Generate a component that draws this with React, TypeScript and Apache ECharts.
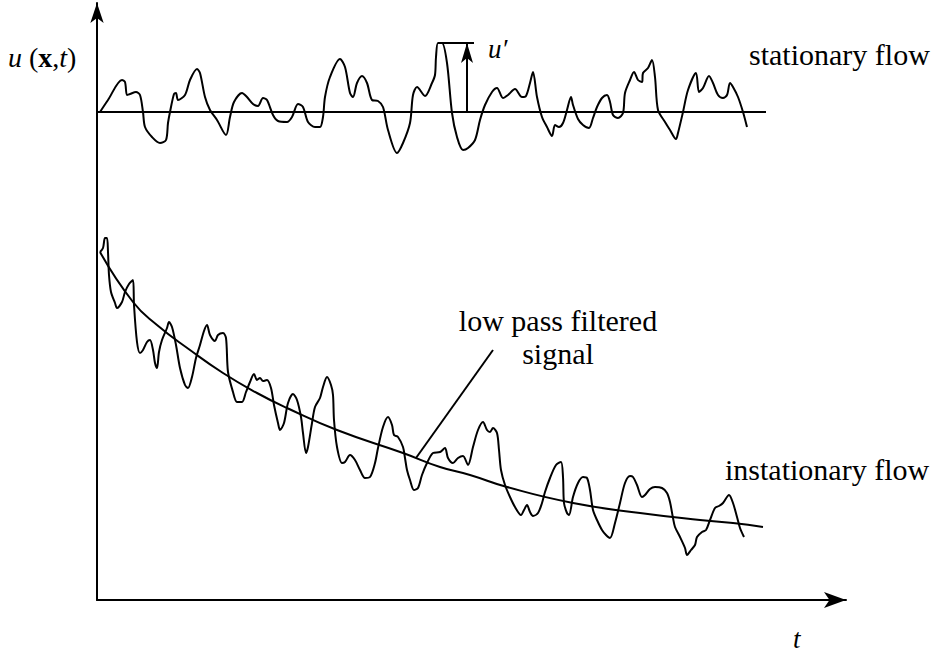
import React, { useEffect, useRef } from "react";
import * as echarts from "echarts";

// Stationary flow signal: [t, u]
const stationaryT = [100,108,122,125,127,130,136,140,143,145,152,160,166,168,170,174,176,178,185,190,197,200,205,210,217,226,230,234,242,247,253,258,263,267,273,278,287,292,298,303,308,315,320,323,325,330,340,345,350,353,357,362,367,372,378,383,388,397,403,410,413,417,425,432,435,436,438,442,447,452,457,463,468,475,480,485,492,497,503,508,515,522,526,530,533,537,542,547,552,555,559,563,567,571,573,578,583,589,593,597,602,607,610,613,618,623,625,630,634,638,642,643,648,652,655,658,665,670,676,678,683,688,696,699,703,709,713,718,723,727,730,733,738,743,747];
const stationaryU = [488,500,520,518,505,506,508,505,488,473,463,457,460,477,488,506,507,500,505,520,531,527,503,490,480,465,483,498,507,503,496,494,502,500,485,479,478,483,496,493,478,473,473,483,503,523,541,533,507,503,517,524,517,500,499,493,470,447,457,477,505,513,504,517,525,543,557,557,537,487,463,450,452,460,480,495,508,512,502,505,511,503,504,517,528,503,483,473,464,475,473,477,490,503,495,481,475,472,482,493,502,505,498,485,482,487,507,520,528,520,518,527,532,540,523,490,478,470,461,467,488,510,527,508,512,524,517,505,502,505,517,513,503,488,473];

// Stationary mean level
const meanT = [97, 766];
const meanU = [488, 488];

// Instationary flow signal: [t, u]
const instT = [100,103,105,107,108,109,111,115,117,122,125,129,133,134,137,140,143,147,150,153,155,157,159,162,167,169,172,176,180,185,188,192,196,200,204,207,210,215,218,223,226,228,233,237,242,246,250,254,257,260,263,267,271,274,278,280,284,288,293,297,301,303,306,308,312,315,320,323,327,331,333,334,337,342,345,350,355,360,365,370,375,378,383,388,392,394,398,403,405,407,410,414,418,422,427,433,440,445,448,453,458,463,468,473,478,483,487,490,493,497,499,501,505,510,515,521,524,527,530,533,538,542,545,550,556,561,563,564,567,569,573,578,583,587,590,593,597,602,606,610,615,620,625,630,633,637,642,645,650,655,662,667,670,673,675,680,685,687,691,695,697,702,706,710,715,719,723,729,733,737,740,744];
const instU = [348,352,362,362,348,325,308,297,292,298,308,316,320,295,258,247,250,258,260,250,237,232,248,260,272,278,273,255,232,215,212,223,242,255,269,275,265,259,265,267,262,228,208,198,198,208,218,226,220,222,219,220,212,195,177,170,177,197,206,200,183,167,147,153,177,193,202,213,223,215,205,180,153,137,138,145,140,130,122,123,137,152,173,183,175,165,163,153,142,130,120,110,112,125,137,147,148,152,142,137,142,144,135,153,170,178,170,168,172,167,150,130,115,103,93,85,90,95,88,84,87,97,108,122,135,138,123,97,87,85,103,117,123,122,110,90,80,70,65,62,77,97,117,124,123,115,103,105,111,113,112,107,98,82,73,63,52,45,50,55,63,68,70,80,92,94,97,105,97,83,72,63];

// Low pass filtered signal
const lowT = [100,133,157,190,223,257,287,337,403,440,470,507,573,640,700,733,763];
const lowU = [348,298,275,250,227,207,192,170,147,133,125,113,97,87,80,77,73];

const zip = (a: number[], b: number[]) => a.map((v, i) => [v, b[i]]);

const FONT = "'Liberation Serif', 'DejaVu Serif', serif";

export default function App() {
  const ref = useRef<HTMLDivElement>(null);
  useEffect(() => {
    if (!ref.current) return;
    const chart = echarts.init(ref.current, null, { renderer: "svg" });
    const lineStyle = { color: "#000", width: 2 };
    const txt = (text: string, x: number, y: number, size: number, extra: any = {}) => ({
      type: "text",
      x,
      y,
      style: {
        text,
        fontFamily: FONT,
        fontSize: size,
        fill: "#000",
        verticalAlign: "middle",
        ...extra,
      },
    });
    chart.setOption({
      animation: false,
      backgroundColor: "#fff",
      grid: { left: 97, right: 86, top: 3, bottom: 53 },
      xAxis: {
        type: "value",
        min: 97,
        max: 846,
        axisLine: {
          show: true,
          onZero: false,
          lineStyle: { color: "#000", width: 2 },
          symbol: ["none", "arrow"],
          symbolSize: [12, 22],
        },
        axisTick: { show: false },
        axisLabel: { show: false },
        splitLine: { show: false },
      },
      yAxis: {
        type: "value",
        min: 0,
        max: 597,
        axisLine: {
          show: true,
          onZero: false,
          lineStyle: { color: "#000", width: 2 },
          symbol: ["none", "arrow"],
          symbolSize: [10, 20],
        },
        axisTick: { show: false },
        axisLabel: { show: false },
        splitLine: { show: false },
      },
      series: [
        {
          type: "line",
          data: zip(meanT, meanU),
          showSymbol: false,
          lineStyle,
          markLine: {
            silent: true,
            symbol: ["none", "none"],
            lineStyle: { color: "#000", width: 2, type: "solid" },
            label: { show: false },
            data: [
              [{ coord: [438, 557] }, { coord: [474, 557] }],
              [{ coord: [416, 142] }, { coord: [493, 250] }],
            ],
          },
        },
        {
          type: "line",
          data: [[467, 488], [467, 557]],
          showSymbol: false,
          lineStyle,
          markLine: {
            silent: true,
            symbol: ["none", "arrow"],
            symbolSize: [9, 20],
            lineStyle: { color: "#000", width: 2, type: "solid" },
            label: { show: false },
            data: [[{ coord: [467, 488] }, { coord: [467, 557] }]],
          },
        },
        {
          type: "line",
          data: zip(stationaryT, stationaryU),
          showSymbol: false,
          smooth: 0.3,
          lineStyle,
        },
        {
          type: "line",
          data: zip(instT, instU),
          showSymbol: false,
          smooth: 0.3,
          lineStyle,
        },
        {
          type: "line",
          data: zip(lowT, lowU),
          showSymbol: false,
          smooth: true,
          lineStyle,
        },
      ],
      graphic: [
        {
          type: "text",
          x: 8,
          y: 57,
          style: {
            text: "{i|u} ({b|x},{i|t})",
            fontFamily: FONT,
            fontSize: 28,
            fill: "#000",
            verticalAlign: "middle",
            rich: {
              i: { fontFamily: FONT, fontStyle: "italic", fontSize: 28, fill: "#000" },
              b: { fontFamily: FONT, fontWeight: "bold", fontSize: 28, fill: "#000" },
            },
          },
        },
        txt("u′", 488, 49, 27, { fontStyle: "italic" }),
        txt("stationary flow", 749, 54, 30),
        txt("low pass filtered", 558, 320, 30, { align: "center" }),
        txt("signal", 558, 353, 30, { align: "center" }),
        txt("instationary flow", 725, 469, 30),
        txt("t", 793, 639, 27, { fontStyle: "italic" }),
      ],
    });
    return () => chart.dispose();
  }, []);
  return (
    <div
      ref={ref}
      style={{ position: "fixed", left: 0, top: 0, width: 932, height: 653, background: "#fff" }}
    />
  );
}
